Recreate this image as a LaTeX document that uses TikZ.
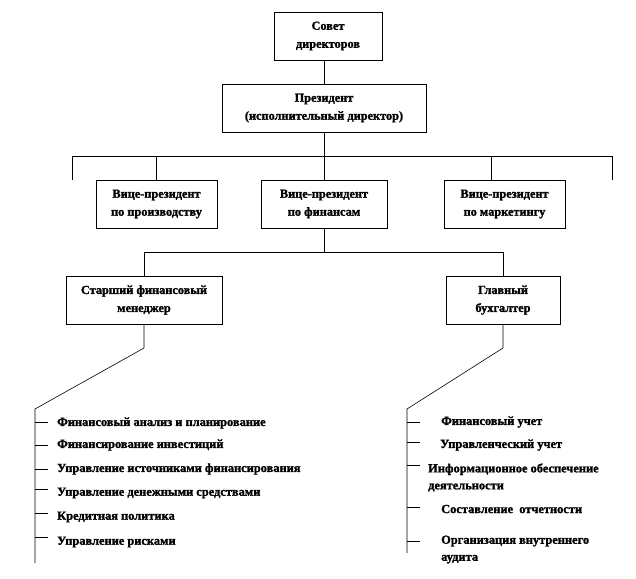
\documentclass[tikz,border=0pt]{standalone}
\usepackage{fontspec}
\setmainfont{Liberation Serif}[BoldFeatures={FakeBold=1.5}]
\begin{document}
\begin{tikzpicture}[x=1pt,y=-1pt,
  box/.style={draw, line width=0.6pt, minimum height=48pt, align=center, inner sep=0pt,
    font=\bfseries\fontsize{12.3}{18}\selectfont},
  conn/.style={line width=0.6pt},
  item/.style={anchor=west, inner sep=0pt, align=left,
    font=\bfseries\fontsize{12.4}{17}\selectfont}]
\useasboundingbox (0,0) rectangle (636,578);
% boxes
\node[box, minimum width=108pt] (sd)  at (328,36)    {Совет\\директоров};
\node[box, minimum width=204pt] (pr)  at (324,108)   {Президент\\(исполнительный директор)};
\node[box, minimum width=121pt] (vp1) at (156.5,204) {Вице-президент\\по производству};
\node[box, minimum width=126pt] (vp2) at (324,204)   {Вице-президент\\по финансам};
\node[box, minimum width=121pt] (vp3) at (504.5,204) {Вице-президент\\по маркетингу};
\node[box, minimum width=156pt] (sfm) at (144,300)   {Старший финансовый\\менеджер};
\node[box, minimum width=114pt] (gb)  at (503,300)   {Главный\\бухгалтер};
% bus 1
\coordinate (b1)  at (324,156);
\coordinate (b1l) at (72,156);
\coordinate (b1r) at (612,156);
\coordinate (s1)  at (72,180);
\coordinate (s2)  at (612,180);
\coordinate (t3)  at (491,156);
\draw[conn] (pr.north |- sd.south) -- (pr.north);
\draw[conn] (pr.south) -- (b1);
\draw[conn] (b1l) -- (b1r);
\draw[conn] (b1l) -- (s1);
\draw[conn] (b1r) -- (s2);
\draw[conn] (vp1.north |- b1) -- (vp1.north);
\draw[conn] (b1) -- (vp2.north);
\draw[conn] (t3) -- (t3 |- vp3.north);
% bus 2
\coordinate (b2) at (324,252);
\draw[conn] (vp2.south) -- (b2);
\draw[conn] (sfm.north |- b2) -- (gb.north |- b2);
\draw[conn] (sfm.north |- b2) -- (sfm.north);
\draw[conn] (gb.north |- b2) -- (gb.north);
% left branch
\coordinate (k1) at (144,348);
\coordinate (k2) at (35,409);
\coordinate (k3) at (35,563);
\draw[conn] (sfm.south) -- (k1) -- (k2) -- (k3);
% right branch
\coordinate (k4) at (503,348);
\coordinate (k5) at (407,409);
\coordinate (k6) at (407,553);
\draw[conn] (gb.south) -- (k4) -- (k5) -- (k6);
% left items
\node[item] (l1) at (57,423) {Финансовый анализ и планирование};
\node[item] (l2) at (57,445) {Финансирование инвестиций};
\node[item] (l3) at (57,469) {Управление источниками финансирования};
\node[item] (l4) at (57,493) {Управление денежными средствами};
\node[item] (l5) at (57,517) {Кредитная политика};
\node[item] (l6) at (57,542) {Управление рисками};
\coordinate (lt1) at (35,422);
\coordinate (lt2) at (35,445);
\coordinate (lt3) at (35,469);
\coordinate (lt4) at (35,489);
\coordinate (lt5) at (35,513);
\coordinate (lt6) at (35,537);
\foreach \t in {lt1,lt2,lt3,lt4,lt5,lt6} \draw[conn] (\t) -- ++(13,0);
% right items
\node[item] (r1) at (441,422)   {Финансовый учет};
\node[item] (r2) at (440,445)   {Управленческий учет};
\node[item] (r3) at (428,477.5) {Информационное обеспечение\\деятельности};
\node[item] (r4) at (441,509)   {Составление\ \ отчетности};
\node[item] (r5) at (441,549.5) {Организация внутреннего\\аудита};
\coordinate (rt1) at (407,422);
\coordinate (rt2) at (407,442);
\coordinate (rt3) at (407,465);
\coordinate (rt4) at (407,507);
\coordinate (rt5) at (407,541);
\foreach \t in {rt1,rt2,rt3,rt4,rt5} \draw[conn] (\t) -- ++(13,0);
\end{tikzpicture}
\end{document}
